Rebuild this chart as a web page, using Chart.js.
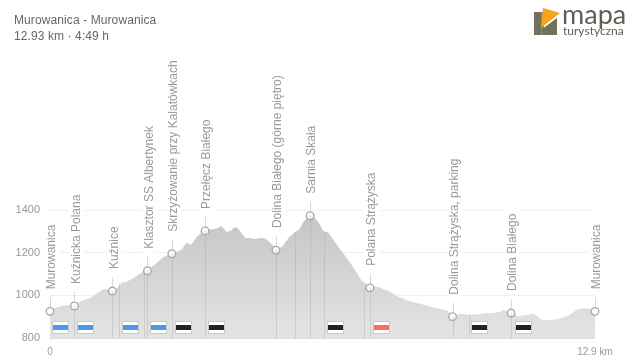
<!DOCTYPE html>
<html><head><meta charset="utf-8">
<script src="https://cdn.jsdelivr.net/npm/chart.js@4"></script>
<style>html,body{margin:0;padding:0;background:#fff}#w{width:635px;height:362px;position:relative}</style>
</head><body><div id="w"><canvas id="c"></canvas></div>
<script>
const titleLines = ["Murowanica - Murowanica", "12.93 km · 4:49 h"];
const profileKm = [0,0.12,0.32,0.58,0.79,0.95,1.11,1.26,1.48,1.58,1.70,1.82,1.98,2.14,2.31,2.49,2.69,2.89,3.12,3.24,3.35,3.48,3.64,3.80,3.95,4.07,4.19,4.31,4.35,4.43,4.51,4.63,4.74,4.86,4.98,5.10,5.22,5.36,5.50,5.65,5.81,5.91,6.01,6.17,6.29,6.41,6.485,6.60,6.84,7.08,7.24,7.39,7.59,7.79,8.03,8.26,8.46,8.82,9.13,9.41,9.55,9.69,9.81,9.92,10.16,10.32,10.48,10.68,10.76,10.95,11.11,11.31,11.47,11.66,11.82,12.06,12.30,12.53,12.73,12.93];
const profileElev = [930,942,952,955,977,987,1008,1027,1027,1031,1058,1064,1081,1102,1120,1145,1180,1195,1214,1247,1237,1273,1302,1309,1312,1325,1297,1305,1317,1319,1302,1269,1269,1264,1269,1267,1247,1219,1227,1266,1297,1308,1344,1378,1362,1328,1302,1294,1227,1164,1117,1070,1042,1039,1020,995,977,958,942,930,906,911,914,908,911,917,916,923,933,914,902,908,914,886,883,889,906,936,939,930];
const stopNames = ["Murowanica","Kuźnicka Polana","Kuźnice","Klasztor SS Albertynek","Skrzyżowanie przy Kalatówkach","Przełęcz Białego","Dolina Białego (górne piętro)","Sarnia Skała","Polana Strążyska","Dolina Strążyska, parking","Dolina Białego","Murowanica"];
const stopKm = [0,0.58,1.48,2.31,2.89,3.68,5.36,6.17,7.59,9.55,10.94,12.93];
const stopElev = [925,950,1020,1115,1195,1302,1212,1373,1035,900,917,925];
const extraLineKm = [1.64,2.22,5.81,6.50,7.45,9.93];
const flagKm = [0.26,0.85,1.92,2.59,3.17,3.96,6.79,7.87,10.2,11.24];
const flagColors = ["#4a98e6","#4a98e6","#4a98e6","#4a98e6","#222222","#222222","#222222","#fb7053","#222222","#222222"];
const yTicks = [800,1000,1200,1400];
const xTickLabels = ["0","12.9 km"];
const F = '"Liberation Sans", Arial, sans-serif';

const overlay = {
  id:'overlay',
  afterDatasetsDraw(ch){
    const {ctx, scales:{x,y}, chartArea:a} = ch;
    ctx.save();
    ctx.strokeStyle='#dcdcdc'; ctx.lineWidth=1;
    ctx.beginPath(); ctx.moveTo(a.left,Math.round(a.bottom)+.5); ctx.lineTo(a.right,Math.round(a.bottom)+.5); ctx.stroke();
    ctx.strokeStyle='rgba(170,170,170,.4)';
    [...stopKm,...extraLineKm].forEach((k,i)=>{
      if(i===0||i===stopKm.length-1) return;
      const px=Math.round(x.getPixelForValue(k))+.5;
      let t;
      if(i>=stopKm.length){
        let j=profileKm.findIndex(v=>v>=k);
        t=y.getPixelForValue(profileElev[j]);
      } else t=y.getPixelForValue(stopElev[i]);
      ctx.beginPath(); ctx.moveTo(px,t); ctx.lineTo(px,a.bottom); ctx.stroke();
    });
    ctx.font='12px '+F;
    stopNames.forEach((n,i)=>{
      const px=x.getPixelForValue(stopKm[i]), py=y.getPixelForValue(stopElev[i]);
      ctx.strokeStyle='#d8d8d8';
      ctx.beginPath(); ctx.moveTo(Math.round(px)+.5,py-4); ctx.lineTo(Math.round(px)+.5,py-14); ctx.stroke();
      const w=ctx.measureText(n).width;
      ctx.save();
      ctx.translate(px+2,py-22); ctx.rotate(-Math.PI/2);
      ctx.fillStyle='#ffffff'; ctx.fillRect(-4,-8,w+8,16);
      ctx.fillStyle='#999999'; ctx.textAlign='left'; ctx.textBaseline='middle';
      ctx.fillText(n,0,0);
      ctx.restore();
    });
    flagKm.forEach((k,i)=>{
      const px=Math.round(x.getPixelForValue(k)), cy=Math.round(y.getPixelForValue(800))-10;
      ctx.fillStyle='#c9c9c9'; ctx.fillRect(px-9,cy-7,17,13);
      ctx.fillStyle='#ffffff'; ctx.fillRect(px-8,cy-6,15,11);
      ctx.fillStyle=flagColors[i]; ctx.fillRect(px-8,cy-3,15,5);
    });
    ctx.fillStyle='#666'; ctx.font='12px '+F; ctx.textAlign='left'; ctx.textBaseline='alphabetic';
    ctx.letterSpacing='0.1px';
    ctx.fillText(titleLines[0],14,24); ctx.fillText(titleLines[1],14,40);
    ctx.letterSpacing='0px';
    ctx.fillStyle='#72725c'; ctx.fillRect(534,12,7,23);
    ctx.fillStyle='#8a8a70'; ctx.fillRect(541,12,3,23);
    ctx.fillStyle='#72725c'; ctx.beginPath(); ctx.moveTo(542,29);ctx.lineTo(557,18);ctx.lineTo(557,35);ctx.lineTo(542,35);ctx.closePath();ctx.fill();
    ctx.fillStyle='#f7a41d'; ctx.beginPath(); ctx.moveTo(543,8);ctx.lineTo(560,13);ctx.lineTo(541,28);ctx.closePath();ctx.fill();
    ctx.fillStyle='#5f5f55'; ctx.font='27px Lato, '+F; ctx.fillText('mapa',562,24);
    ctx.font='12px Lato, '+F; ctx.fillText('turystyczna',563,35);
    ctx.restore();
  }
};
new Chart(document.getElementById('c'),{
  type:'line',
  data:{datasets:[
    {data:profileKm.map((k,i)=>({x:k,y:profileElev[i]})),pointRadius:0,borderWidth:0,tension:0,fill:'start',
     backgroundColor(c){const a=c.chart.chartArea; if(!a) return '#ccc';
       const g=c.chart.ctx.createLinearGradient(0,a.top+8,0,a.bottom);
       g.addColorStop(0,'#c6c6c4'); g.addColorStop(1,'#e4e4e4'); return g;},order:3},
    {data:stopKm.map((k,i)=>({x:k,y:stopElev[i]})),showLine:false,pointRadius:3.8,pointBorderWidth:1.3,
     pointBackgroundColor:'rgba(255,255,255,.85)',pointBorderColor:'#a6a6a6',order:1,clip:false}
  ]},
  options:{
    responsive:true,maintainAspectRatio:false,animation:false,
    layout:{padding:{top:210,right:40,left:0,bottom:0}},
    plugins:{legend:{display:false},tooltip:{enabled:false}},
    scales:{
      x:{type:'linear',min:0,max:12.93,
        afterBuildTicks(s){s.ticks=[{value:0},{value:12.93}];},
        afterFit(s){s.height=24;},
        grid:{display:false},border:{display:false},
        ticks:{autoSkip:false,maxRotation:0,padding:0,color:'#999',font:{family:F,size:10},
          callback(v,i){return xTickLabels[i];}}},
      y:{min:800,max:1400,
        afterBuildTicks(s){s.ticks=yTicks.map(v=>({value:v}));},
        afterFit(s){s.width=50;},
        grid:{color(c){return c.tick.value===800?'transparent':'#efefef';},drawTicks:false},border:{display:false},
        ticks:{padding:10,color:'#999',font:{family:F,size:11},callback(v){return String(v);}}}
    }
  },
  plugins:[overlay]
});
</script></body></html>
